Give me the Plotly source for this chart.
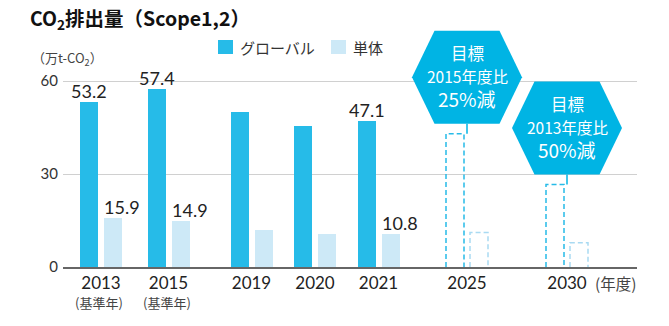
import plotly.graph_objects as go

# ---- data -------------------------------------------------------------
years = ["2013", "2015", "2019", "2020", "2021", "2025", "2030"]
actual_years = years[:5]
target_years = years[5:]

global_vals = [53.2, 57.4, 50.0, 45.6, 47.1]      # グローバル (actual)
single_vals = [15.9, 14.9, 11.9, 10.6, 10.8]      # 単体 (actual)
target_global = [43.0, 26.6]                      # グローバル targets 2025 / 2030
target_single = [11.1, 7.8]                       # 単体 targets 2025 / 2030

labeled_years = ["2013", "2015", "2021"]
base_years = ["2013", "2015"]
target_text = [["目標", "2015年度比", "25%減"],
               ["目標", "2013年度比", "50%減"]]

# ---- layout / style ---------------------------------------------------
W, H = 669, 326
M_L, M_R, M_T, M_B = 63, 32, 20, 59
PX_PER_UNIT = 3.1                      # vertical pixels per 万t
plot_w = W - M_L - M_R
plot_h = H - M_T - M_B
y_top = plot_h / PX_PER_UNIT

# horizontal slot centres on a pixel-like x scale
slot_x = [101, 168.5, 251.5, 315, 378.5, 467, 567]
slot = dict(zip(years, slot_x))
BAR_W = 18
OFF_G, OFF_S = -21, 3

C_GLOBAL = "#26bbe8"
C_SINGLE = "#cde9f7"
C_SINGLE_DASH = "#a9daf2"
C_HEX = "#00b4e4"
C_TEXT = "#222222"
C_SUB = "#444444"
F_CJK = "Noto Sans CJK JP"
F_NUM = "Lato, Noto Sans CJK JP"


def u(px):
    """pixel length -> value units on the y scale"""
    return px / PX_PER_UNIT


def px2paper_x(px):
    return (px - M_L) / plot_w


def px2paper_y(py):
    return (H - M_B - py) / plot_h


fig = go.Figure()

fig.add_bar(x=[slot[y] for y in actual_years], y=global_vals, width=BAR_W,
            offset=OFF_G, marker=dict(color=C_GLOBAL, line_width=0),
            name="グローバル", showlegend=False, hoverinfo="y")
fig.add_bar(x=[slot[y] for y in actual_years], y=single_vals, width=BAR_W,
            offset=OFF_S, marker=dict(color=C_SINGLE, line_width=0),
            name="単体", showlegend=False, hoverinfo="y")

# dashed outline bars for the targets
for yr, vg, vs in zip(target_years, target_global, target_single):
    for off, v, col in ((OFF_G, vg, C_GLOBAL), (OFF_S, vs, C_SINGLE_DASH)):
        x0 = slot[yr] + off
        x1 = x0 + BAR_W
        fig.add_scatter(x=[x0, x0, x1, x1], y=[0, v, v, 0], mode="lines",
                        line=dict(color=col, width=1.5, dash="5px,3px"),
                        showlegend=False, hoverinfo="skip")

annotations = []
shapes = []

# value labels
for yr, vg, vs in zip(actual_years, global_vals, single_vals):
    if yr not in labeled_years:
        continue
    annotations.append(dict(x=slot[yr], y=vg, xref="x", yref="y",
                            xshift=OFF_G + BAR_W / 2, yshift=-2,
                            text=f"{vg}", showarrow=False,
                            xanchor="center", yanchor="bottom",
                            font=dict(family=F_NUM, size=18, color=C_TEXT)))
    annotations.append(dict(x=slot[yr], y=vs, xref="x", yref="y",
                            xshift=OFF_S - 2, yshift=-2,
                            text=f"{vs}", showarrow=False,
                            xanchor="left", yanchor="bottom",
                            font=dict(family=F_NUM, size=18, color=C_TEXT)))

# target hexagons with connectors
HEX_HW, HEX_TW, HEX_HH, GAP = 55, 32.5, 46.5, 10
for yr, vg, lines in zip(target_years, target_global, target_text):
    cx = slot[yr]
    cy = vg + u(GAP + HEX_HH)
    pts = [(cx - HEX_HW, cy), (cx - HEX_TW, cy + u(HEX_HH)),
           (cx + HEX_TW, cy + u(HEX_HH)), (cx + HEX_HW, cy),
           (cx + HEX_TW, cy - u(HEX_HH)), (cx - HEX_TW, cy - u(HEX_HH))]
    path = "M " + " L ".join(f"{px},{py}" for px, py in pts) + " Z"
    shapes.append(dict(type="path", path=path, xref="x", yref="y",
                       fillcolor=C_HEX, line_width=0, layer="above"))
    shapes.append(dict(type="line", xref="x", yref="y", x0=cx, x1=cx,
                       y0=vg, y1=vg + u(GAP), layer="above",
                       line=dict(color=C_HEX, width=1.5)))
    for txt, dy, fs in zip(lines, (24, 1, -21), (16.5, 15.5, 19)):
        annotations.append(dict(x=cx, y=cy, xref="x", yref="y", yshift=dy,
                                text=txt, showarrow=False,
                                xanchor="center", yanchor="middle",
                                font=dict(family=F_CJK, size=fs, color="white")))

# base-year notes under the tick labels
for yr in base_years:
    annotations.append(dict(x=slot[yr], y=0, xref="x", yref="paper",
                            yshift=-35, xshift=-2, text="(基準年)", showarrow=False,
                            xanchor="center", yanchor="middle",
                            font=dict(family=F_CJK, size=13, color=C_SUB)))

# unit labels
annotations.append(dict(x=1, y=0, xref="paper", yref="paper", yshift=-16,
                        text="(年度)", showarrow=False, xanchor="right",
                        yanchor="middle", xshift=1,
                        font=dict(family=F_CJK, size=15.5, color=C_SUB)))
annotations.append(dict(x=px2paper_x(30), y=px2paper_y(58),
                        xref="paper", yref="paper",
                        text="（万t-CO<sub>2</sub>）", showarrow=False,
                        xanchor="left", yanchor="middle",
                        font=dict(family=F_CJK, size=13, color=C_SUB)))

# hand-built legend
for x0, label, col, tx in ((218, "グローバル", C_GLOBAL, 238),
                           (331, "単体", C_SINGLE, 351)):
    shapes.append(dict(type="rect", xref="paper", yref="paper",
                       x0=px2paper_x(x0), x1=px2paper_x(x0 + 15),
                       y0=px2paper_y(54), y1=px2paper_y(40),
                       fillcolor=col, line_width=0))
    annotations.append(dict(x=px2paper_x(tx), y=px2paper_y(47),
                            xref="paper", yref="paper", text=label,
                            showarrow=False, xanchor="left", yanchor="middle",
                            font=dict(family=F_CJK, size=15, color="#333333")))

fig.update_layout(
    width=W, height=H, autosize=False,
    margin=dict(l=M_L, r=M_R, t=M_T, b=M_B),
    paper_bgcolor="white", plot_bgcolor="white",
    title=dict(text="<b>CO<sub>2</sub>排出量（Scope1,2）</b>",
               xref="container", yref="container",
               x=30 / W, y=1 - 19 / H, xanchor="left", yanchor="middle",
               font=dict(family=F_CJK, size=19.5, color="#111111")),
    showlegend=False,
    bargap=0,
    annotations=annotations,
    shapes=shapes,
    xaxis=dict(range=[M_L, W - M_R], tickvals=slot_x, ticktext=years,
               showgrid=False, zeroline=False, showline=True,
               linecolor="#666666", linewidth=1.5, ticks="",
               tickfont=dict(family=F_NUM, size=17, color=C_TEXT),
               fixedrange=True),
    yaxis=dict(range=[0, y_top], tickvals=[0, 30, 60],
               showgrid=True, gridcolor="#d0d0d0", gridwidth=1,
               zeroline=False, showline=False, ticks="",
               tickfont=dict(family=F_NUM, size=15, color="#333333"),
               ticklabelstandoff=4, fixedrange=True),
)

fig.write_html("out.html")
